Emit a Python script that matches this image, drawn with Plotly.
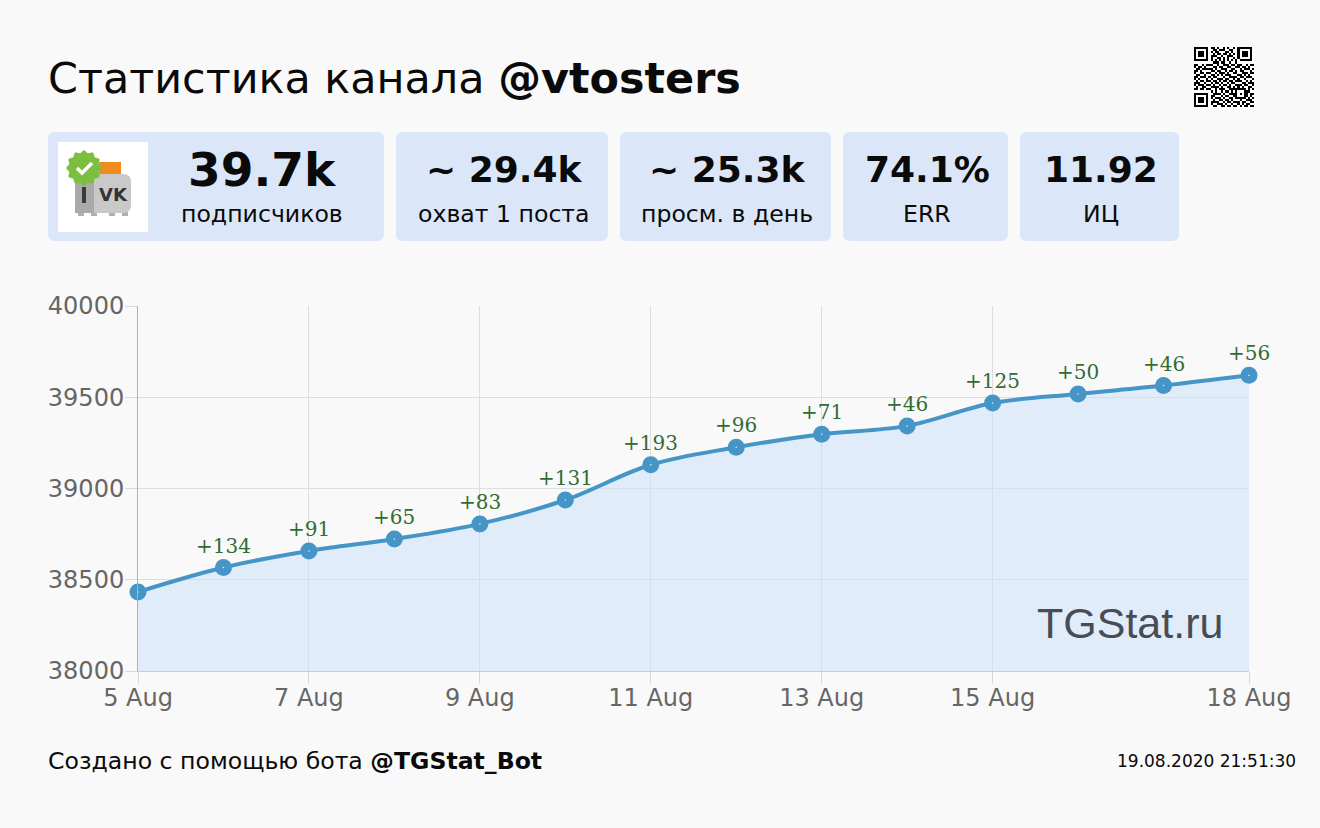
import math
import plotly.graph_objects as go

W, H = 1320, 828

days = ["2020-08-05", "2020-08-06", "2020-08-07", "2020-08-08", "2020-08-09", "2020-08-10", "2020-08-11",
        "2020-08-12", "2020-08-13", "2020-08-14", "2020-08-15", "2020-08-16", "2020-08-17", "2020-08-18"]
subscribers = [38433, 38567, 38658, 38723, 38806, 38937, 39130, 39226, 39297, 39343, 39468, 39518, 39564, 39620]
deltas = [None, "+134", "+91", "+65", "+83", "+131", "+193", "+96", "+71", "+46", "+125", "+50", "+46", "+56"]

tick_days = ["2020-08-05", "2020-08-07", "2020-08-09", "2020-08-11", "2020-08-13", "2020-08-15", "2020-08-18"]
tick_labels = ["5 Aug", "7 Aug", "9 Aug", "11 Aug", "13 Aug", "15 Aug", "18 Aug"]
y_ticks = [38000, 38500, 39000, 39500, 40000]

card_values = ["39.7k", "~ 29.4k", "~ 25.3k", "74.1%", "11.92"]
card_captions = ["подписчиков", "охват 1 поста", "просм. в день", "ERR", "ИЦ"]

# the small modules are only approximate
qr_rows = [
    "11111110110100101001011111110",
    "10000010011011100110010000010",
    "10111010101100011010010111010",
    "10111010010110110101010111010",
    "10111010111001001110010111010",
    "10000010100110101001010000010",
    "11111110101010101010101111110",
    "00000000011101100100100000000",
    "11001011100100111011011001011",
    "10110100011011001100110110100",
    "01101111101001110011001011101",
    "11010000110110010110101100010",
    "10011011001011101001100111011",
    "01100100110101011100011010100",
    "11011101011000100111101101110",
    "10100010100111011001010010001",
    "01011011011010110110111001010",
    "11100100101101001011000110111",
    "10111011010010110100111011001",
    "01001100111101001101010100110",
    "11011011001011100111111110101",
    "00000000101001011010100011100",
    "11111110011110100111101011011",
    "10000010110001011001100011010",
    "10111010101110100110111110101",
    "10111010010011011010001001110",
    "10111010111100101101110110011",
    "10000010100111010010010101100",
    "11111110011001101101101011011",
]
qr_matrix = [[int(c) for c in row] for row in qr_rows]


def px(x):
    return x / W


def py(y):
    return 1 - y / H


def rounded(x0, y0, x1, y1, r):
    a, b, c, d = px(x0), py(y0), px(x1), py(y1)
    rx, ry = r / W, r / H
    return (f"M{a + rx},{b} L{c - rx},{b} Q{c},{b} {c},{b - ry} L{c},{d + ry} Q{c},{d} {c - rx},{d} "
            f"L{a + rx},{d} Q{a},{d} {a},{d + ry} L{a},{b - ry} Q{a},{b} {a + rx},{b} Z")


def box(x0, y0, x1, y1, color):
    return dict(type="rect", xref="paper", yref="paper", x0=px(x0), x1=px(x1), y0=py(y1), y1=py(y0),
                fillcolor=color, line_width=0, layer="below")


def label(x, y, text, size, color="#0a0a0a", family="DejaVu Sans", anchor="center"):
    return dict(xref="paper", yref="paper", x=px(x), y=py(y), text=text, showarrow=False, xanchor=anchor,
                yanchor="middle", font=dict(family=family, size=size, color=color))


fig = go.Figure()

# area + line
fig.add_trace(go.Scatter(
    x=days, y=subscribers, mode="lines+markers", fill="tozeroy", fillcolor="rgba(205,225,252,0.55)",
    line=dict(color="#4596c6", width=4, shape="spline", smoothing=1),
    marker=dict(color="#4596c6", size=17, line_width=0),
    cliponaxis=False, hoverinfo="skip",
))
# tiny light centre of each point
fig.add_trace(go.Scatter(x=days, y=subscribers, mode="markers", marker=dict(color="#e8f2fa", size=1.5),
                         cliponaxis=False, hoverinfo="skip"))

fig.add_trace(go.Heatmap(z=qr_matrix, xaxis="x2", yaxis="y2", showscale=False, hoverinfo="skip",
                         colorscale=[[0, "#ffffff"], [1, "#000000"]], zmin=0, zmax=1))

shapes = []
cards = [(48, 384), (396, 608), (620, 831), (843, 1008), (1020, 1179)]
for x0, x1 in cards:
    shapes.append(dict(type="path", xref="paper", yref="paper", path=rounded(x0, 132, x1, 241, 7),
                       fillcolor="#dbe7f9", line_width=0, layer="below"))

# channel picture
shapes.append(box(58, 142, 148, 232, "#ffffff"))
for x0, x1 in [(78, 84), (91, 97), (109, 115), (122, 128)]:
    shapes.append(box(x0, 212, x1, 216, "#b0b0b0"))
shapes.append(box(99, 162, 121, 176, "#f08c1e"))
shapes.append(dict(type="path", xref="paper", yref="paper", path=rounded(75, 174, 131, 213, 8),
                   fillcolor="#c9c9c9", line_width=0, layer="below"))
shapes.append(box(75, 180, 94, 213, "#aaaaaa"))
shapes.append(box(82, 187, 86, 203, "#3a3a3a"))
pts = []
for i in range(72):
    t = i / 72 * 2 * math.pi
    r = 16.5 + 1.3 * math.cos(12 * t)
    pts.append(f"{px(84 + r * math.cos(t))},{py(168 + r * math.sin(t))}")
shapes.append(dict(type="path", xref="paper", yref="paper", path="M" + " L".join(pts) + " Z",
                   fillcolor="#7cbf3f", line_width=0, layer="below"))
shapes.append(dict(type="path", xref="paper", yref="paper",
                   path=f"M{px(77)},{py(168)} L{px(82)},{py(173)} L{px(92)},{py(163)}",
                   line=dict(color="#ffffff", width=3.5), layer="below"))

annotations = [
    label(46, 78, "Статистика канала <b>@vtosters</b>", 42.9, anchor="left"),
    label(113, 194, "<b>VK</b>", 18, color="#333333"),
    label(46, 761, "Создано с помощью бота <b>@TGStat_Bot</b>", 23.6, anchor="left"),
    label(1298, 761, "19.08.2020 21:51:30", 17, anchor="right"),
    label(1225, 623, "TGStat.ru", 43, color="#474c55", family="Liberation Sans", anchor="right"),
]

centres = [262, 504, 727, 927, 1101]
for i, cx in enumerate(centres):
    annotations.append(label(cx, 169, f"<b>{card_values[i]}</b>", 47 if i == 0 else 36))
    annotations.append(label(cx, 214, card_captions[i], 23.6))

for d, v, t in zip(days, subscribers, deltas):
    if t is None:
        continue
    annotations.append(dict(x=d, y=v, xref="x", yref="y", text=t, showarrow=False, yshift=22,
                            font=dict(family="DejaVu Serif", size=20, color="#336b36")))

fig.update_layout(
    width=W, height=H, margin=dict(l=0, r=0, t=0, b=0, autoexpand=False),
    paper_bgcolor="#f9f9f9", plot_bgcolor="#f9f9f9",
    showlegend=False, shapes=shapes, annotations=annotations,
    xaxis=dict(domain=[px(138), px(1249)], type="date", range=[days[0], days[-1]],
               tickvals=tick_days, ticktext=tick_labels, ticks="outside", ticklen=12, tickcolor="#d8d8d8",
               ticklabelstandoff=-7,
               gridcolor="#dedede", showline=True, linecolor="#c6ccd8", zeroline=False,
               tickfont=dict(family="DejaVu Sans", size=24, color="#666666")),
    yaxis=dict(domain=[py(671), py(306)], range=[38000, 40000], tickvals=y_ticks, tickformat="d",
               ticks="outside", ticklen=12, tickcolor="#d8d8d8", gridcolor="#dedede", showline=True,
               ticklabelstandoff=-4,
               linecolor="#b0b0b0", zeroline=False,
               tickfont=dict(family="DejaVu Sans", size=24, color="#666666")),
    xaxis2=dict(domain=[px(1194), px(1254)], anchor="y2", visible=False),
    yaxis2=dict(domain=[py(107), py(47)], anchor="x2", visible=False, autorange="reversed"),
)

fig.write_html("out.html", config=dict(displayModeBar=False),
               post_script="document.body.style.margin='0';document.body.style.overflow='hidden';")
